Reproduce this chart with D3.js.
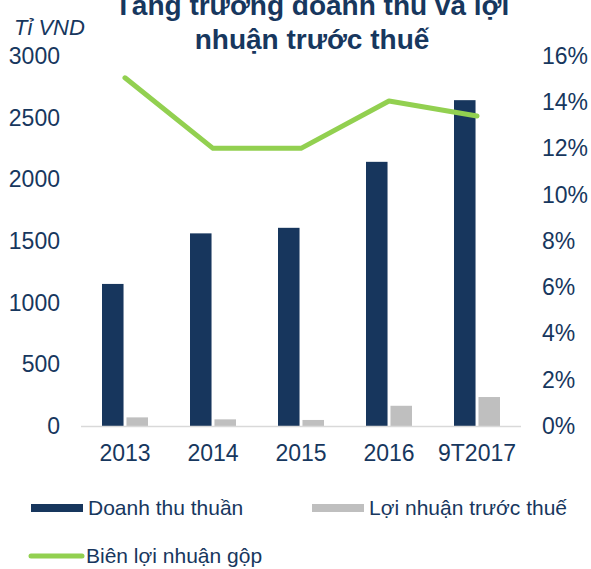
<!DOCTYPE html>
<html>
<head>
<meta charset="utf-8">
<script src="https://cdn.jsdelivr.net/npm/d3@7"></script>
<style>
  body { margin: 0; background: #fff; }
  text { font-family: "Liberation Sans", Arial, sans-serif; fill: #17375e; }
</style>
</head>
<body>
<svg id="chart"></svg>
<script>
// Data
const years = ["2013", "2014", "2015", "2016", "9T2017"];
const revenue = [1160, 1570, 1615, 2150, 2650];
const profitBeforeTax = [78, 62, 57, 172, 243];
const grossMargin = [15.1, 12.05, 12.05, 14.1, 13.45];
const leftTicks = [0, 500, 1000, 1500, 2000, 2500, 3000];
const rightTicks = [0, 2, 4, 6, 8, 10, 12, 14, 16];
const titleLines = ["Tăng trưởng doanh thu và lợi", "nhuận trước thuế"];

const config = {
  width: 591,
  height: 569,
  margin: { top: 57, right: 70, bottom: 142, left: 81 },
};

const svg = d3
  .select("#chart")
  .attr("width", config.width)
  .attr("height", config.height);

const plotWidth = 440;
const plotHeight = config.height - config.margin.top - config.margin.bottom;

const chart = svg
  .append("g")
  .attr("transform", `translate(${config.margin.left},${config.margin.top})`);

// Scales
const xScale = d3.scaleBand().domain(years).range([0, plotWidth]);
const xInner = d3
  .scaleBand()
  .domain(["rev", "pbt"])
  .range([xScale.bandwidth() / 2 - 23, xScale.bandwidth() / 2 + 23])
  .paddingInner(0.12);
const yLeft = d3.scaleLinear().domain([0, 3000]).range([plotHeight, 0]);
const yRight = d3.scaleLinear().domain([0, 16]).range([plotHeight, 0]);

// Axes (labels only)
const leftAxis = d3
  .axisLeft(yLeft)
  .tickValues(leftTicks)
  .tickSize(0)
  .tickPadding(21)
  .tickFormat(d3.format("d"));
const rightAxis = d3
  .axisRight(yRight)
  .tickValues(rightTicks)
  .tickSize(0)
  .tickPadding(21)
  .tickFormat((d) => d + "%");
const bottomAxis = d3.axisBottom(xScale).tickSize(0).tickPadding(18);

const leftG = chart.append("g").call(leftAxis);
const rightG = chart
  .append("g")
  .attr("transform", `translate(${plotWidth},0)`)
  .call(rightAxis);
const bottomG = chart
  .append("g")
  .attr("transform", `translate(0,${plotHeight})`)
  .call(bottomAxis);

[leftG, rightG, bottomG].forEach((g) => {
  g.select(".domain").remove();
  g.selectAll("text")
    .attr("fill", "#17375e")
    .style("font-size", "23px")
    .style("font-family", '"Liberation Sans", Arial, sans-serif');
});
leftG.selectAll("text").attr("dy", "0.28em");
rightG.selectAll("text").attr("dy", "0.28em");
bottomG.selectAll("text").attr("dy", "0.71em");

// Bars
const groups = chart
  .selectAll(".group")
  .data(years)
  .join("g")
  .attr("class", "group")
  .attr("transform", (d) => `translate(${xScale(d)},0)`);

groups
  .append("rect")
  .attr("x", xInner("rev"))
  .attr("width", xInner.bandwidth())
  .attr("y", (d, i) => yLeft(revenue[i]))
  .attr("height", (d, i) => plotHeight - yLeft(revenue[i]))
  .attr("fill", "#17365d");

groups
  .append("rect")
  .attr("x", xInner("pbt"))
  .attr("width", xInner.bandwidth())
  .attr("y", (d, i) => yLeft(profitBeforeTax[i]))
  .attr("height", (d, i) => plotHeight - yLeft(profitBeforeTax[i]))
  .attr("fill", "#bfbfbf");

// Baseline
chart
  .append("line")
  .attr("x1", 0)
  .attr("x2", plotWidth)
  .attr("y1", plotHeight - 0.5)
  .attr("y2", plotHeight - 0.5)
  .attr("stroke", "#d9d9d9")
  .attr("stroke-width", 1.5);

// Gross margin line
const line = d3
  .line()
  .x((d, i) => xScale(years[i]) + xScale.bandwidth() / 2)
  .y((d) => yRight(d));

chart
  .append("path")
  .datum(grossMargin)
  .attr("d", line)
  .attr("fill", "none")
  .attr("stroke", "#92d050")
  .attr("stroke-width", 5)
  .attr("stroke-linecap", "round")
  .attr("stroke-linejoin", "round");

// Title (first line is clipped by the top edge, as in the source image)
svg
  .append("text")
  .attr("x", 312)
  .attr("y", 15)
  .attr("text-anchor", "middle")
  .style("font-size", "28px")
  .style("font-weight", "bold")
  .selectAll("tspan")
  .data(titleLines)
  .join("tspan")
  .attr("x", 312)
  .attr("dy", (d, i) => (i === 0 ? 0 : 34))
  .text((d) => d);

// Unit label
svg
  .append("text")
  .attr("x", 14)
  .attr("y", 35)
  .style("font-size", "22px")
  .style("font-style", "italic")
  .text("Tỉ VND");

// Legend
const legendItems = [
  { label: "Doanh thu thuần", color: "#17365d", type: "bar", x: 31, y: 508 },
  { label: "Lợi nhuận trước thuế", color: "#bfbfbf", type: "bar", x: 312, y: 508 },
  { label: "Biên lợi nhuận gộp", color: "#92d050", type: "line", x: 29, y: 556 },
];

const legend = svg
  .selectAll(".legend")
  .data(legendItems)
  .join("g")
  .attr("class", "legend")
  .attr("transform", (d) => `translate(${d.x},${d.y})`);

legend
  .filter((d) => d.type === "bar")
  .append("rect")
  .attr("x", 0)
  .attr("y", -4)
  .attr("width", 52)
  .attr("height", 8)
  .attr("fill", (d) => d.color);

legend
  .filter((d) => d.type === "line")
  .append("line")
  .attr("x1", 2)
  .attr("x2", 53)
  .attr("y1", 0)
  .attr("y2", 0)
  .attr("stroke", (d) => d.color)
  .attr("stroke-width", 5)
  .attr("stroke-linecap", "round");

legend
  .append("text")
  .attr("x", 57)
  .attr("dy", "0.35em")
  .style("font-size", "21px")
  .text((d) => d.label);
</script>
</body>
</html>
